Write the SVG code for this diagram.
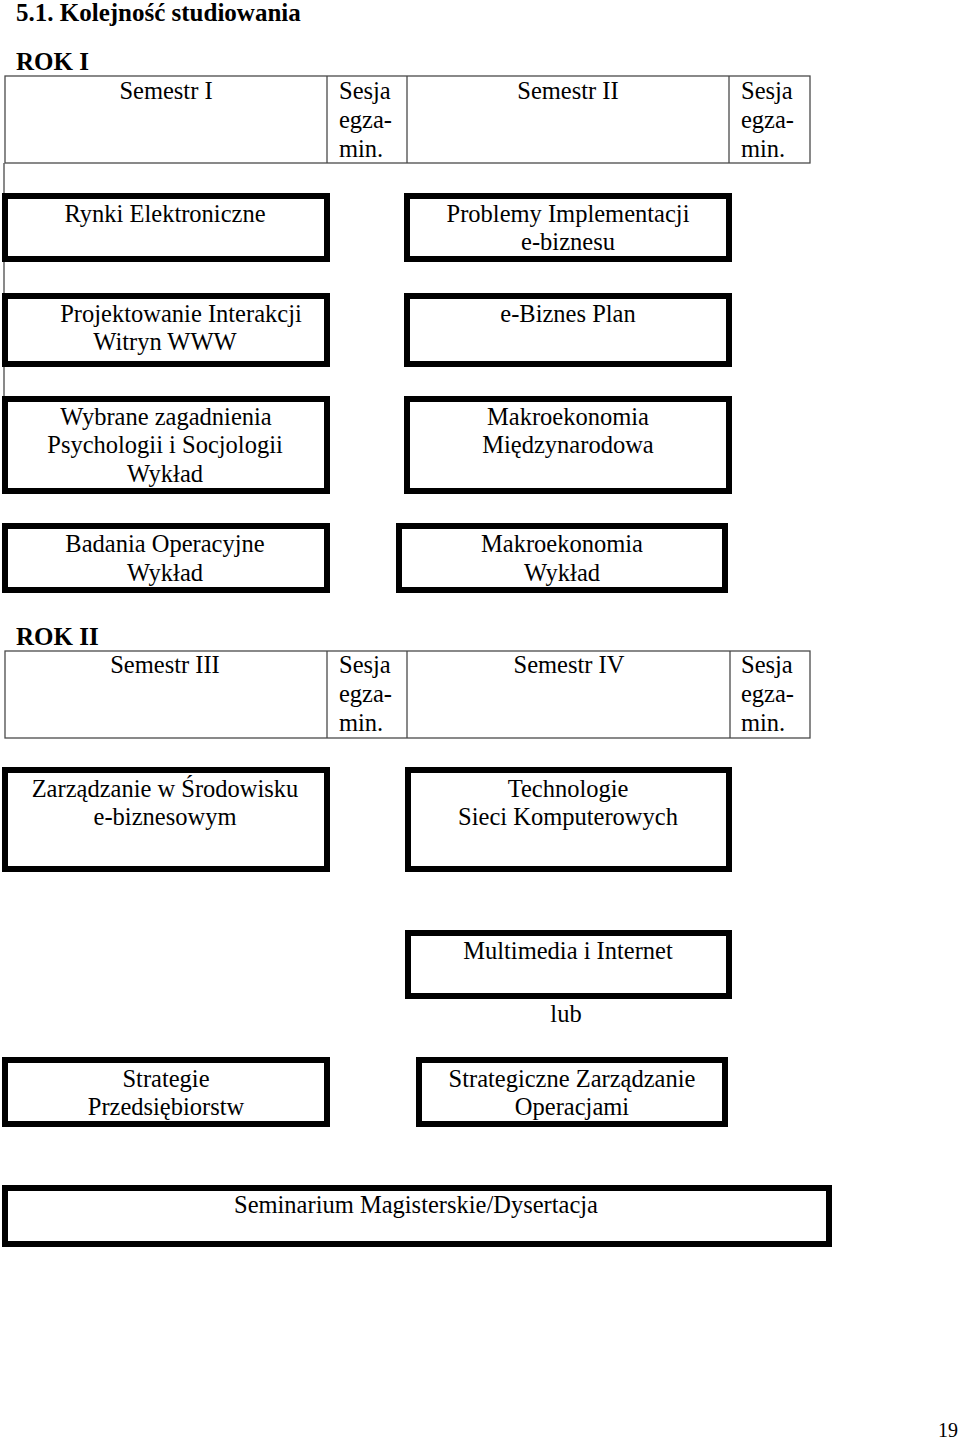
<svg xmlns="http://www.w3.org/2000/svg" width="960" height="1440" viewBox="0 0 960 1440">
<style>
text{font-family:"Liberation Serif","Times New Roman",serif;fill:#000}
.h{font-size:25px;font-weight:bold}
.t{font-size:24.5px}
.c{text-anchor:middle}
.box{fill:#fff;stroke:#000;stroke-width:6}
.tbl{fill:none;stroke:#4a4a4a;stroke-width:1.3}
</style>
<rect width="960" height="1440" fill="#fff"/>
<text class="h" x="16" y="21">5.1. Kolejność studiowania</text>
<text class="h" x="16" y="70">ROK I</text>
<g id="table1">
<rect class="tbl" x="5" y="76" width="805" height="87"/>
<line class="tbl" x1="327" y1="76" x2="327" y2="163"/>
<line class="tbl" x1="407" y1="76" x2="407" y2="163"/>
<line class="tbl" x1="729" y1="76" x2="729" y2="163"/>
<text class="t c" x="166" y="99">Semestr I</text>
<text class="t" x="339" y="99">Sesja</text><text class="t" x="339" y="128">egza-</text><text class="t" x="339" y="157">min.</text>
<text class="t c" x="568" y="99">Semestr II</text>
<text class="t" x="741" y="99">Sesja</text><text class="t" x="741" y="128">egza-</text><text class="t" x="741" y="157">min.</text>
</g>
<g id="connectors">
<line class="tbl" x1="4" y1="163" x2="4" y2="396"/>
</g>
<g id="n-rynki"><rect class="box" x="5" y="196" width="322" height="63"/><text class="t c" x="165" y="222">Rynki Elektroniczne</text></g>
<g id="n-problemy"><rect class="box" x="407" y="196" width="322" height="63"/><text class="t c" x="568" y="222">Problemy Implementacji</text><text class="t c" x="568" y="250">e-biznesu</text></g>
<g id="n-projektowanie"><rect class="box" x="5" y="296" width="322" height="68"/><text class="t c" x="181" y="322">Projektowanie Interakcji</text><text class="t c" x="165" y="350">Witryn WWW</text></g>
<g id="n-ebiznesplan"><rect class="box" x="407" y="296" width="322" height="68"/><text class="t c" x="568" y="322">e-Biznes Plan</text></g>
<g id="n-wybrane"><rect class="box" x="5" y="399" width="322" height="92"/><text class="t c" x="166" y="425">Wybrane zagadnienia</text><text class="t c" x="165" y="453">Psychologii i Socjologii</text><text class="t c" x="165" y="482">Wykład</text></g>
<g id="n-makromiedzy"><rect class="box" x="407" y="399" width="322" height="92"/><text class="t c" x="568" y="425">Makroekonomia</text><text class="t c" x="568" y="453">Międzynarodowa</text></g>
<g id="n-badania"><rect class="box" x="5" y="526" width="322" height="64"/><text class="t c" x="165" y="552">Badania Operacyjne</text><text class="t c" x="165" y="581">Wykład</text></g>
<g id="n-makro"><rect class="box" x="399" y="526" width="326" height="64"/><text class="t c" x="562" y="552">Makroekonomia</text><text class="t c" x="562" y="581">Wykład</text></g>
<text class="h" x="16" y="645">ROK II</text>
<g id="table2">
<rect class="tbl" x="5" y="651" width="805" height="87"/>
<line class="tbl" x1="327" y1="651" x2="327" y2="738"/>
<line class="tbl" x1="407" y1="651" x2="407" y2="738"/>
<line class="tbl" x1="730" y1="651" x2="730" y2="738"/>
<text class="t c" x="165" y="673">Semestr III</text>
<text class="t" x="339" y="673">Sesja</text><text class="t" x="339" y="702">egza-</text><text class="t" x="339" y="731">min.</text>
<text class="t c" x="569" y="673">Semestr IV</text>
<text class="t" x="741" y="673">Sesja</text><text class="t" x="741" y="702">egza-</text><text class="t" x="741" y="731">min.</text>
</g>
<g id="n-zarzadzanie"><rect class="box" x="5" y="770" width="322" height="99"/><text class="t c" x="165" y="797">Zarządzanie w Środowisku</text><text class="t c" x="165" y="825">e-biznesowym</text></g>
<g id="n-technologie"><rect class="box" x="408" y="770" width="321" height="99"/><text class="t c" x="568" y="797">Technologie</text><text class="t c" x="568" y="825">Sieci Komputerowych</text></g>
<g id="n-multimedia"><rect class="box" x="408" y="933" width="321" height="63"/><text class="t c" x="568" y="959">Multimedia i Internet</text></g>
<text class="t c" x="566" y="1022">lub</text>
<g id="n-strategie"><rect class="box" x="5" y="1060" width="322" height="64"/><text class="t c" x="166" y="1087">Strategie</text><text class="t c" x="166" y="1115">Przedsiębiorstw</text></g>
<g id="n-strategiczne"><rect class="box" x="419" y="1060" width="306" height="64"/><text class="t c" x="572" y="1087">Strategiczne Zarządzanie</text><text class="t c" x="572" y="1115">Operacjami</text></g>
<g id="n-seminarium"><rect class="box" x="5" y="1188" width="824" height="56"/><text class="t c" x="416" y="1213">Seminarium Magisterskie/Dysertacja</text></g>
<text x="958" y="1437" style="font-size:20px;text-anchor:end">19</text>
</svg>
